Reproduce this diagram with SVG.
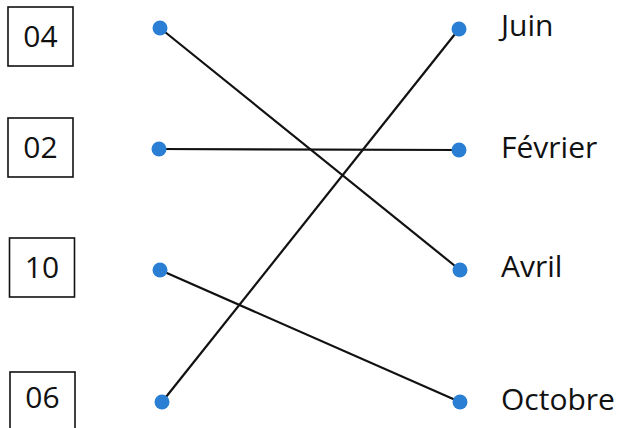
<svg xmlns="http://www.w3.org/2000/svg" width="621" height="428" viewBox="0 0 621 428">
<style>
.box{fill:#fff;stroke:#111;stroke-width:1.6}
.num{font-family:"Open Sans","Liberation Sans",sans-serif;font-size:30px;fill:#111;text-anchor:middle}
.lbl{font-family:"Open Sans","Liberation Sans",sans-serif;font-size:30px;fill:#111}
.dot{fill:#2a7fd4}
.ln{stroke:#111;stroke-width:2.2;fill:none}
</style>
<rect width="621" height="428" fill="#fff"/>
<g id="connectors">
<line class="ln" x1="160" y1="28" x2="460" y2="270"/>
<line class="ln" x1="159" y1="149" x2="459" y2="150"/>
<line class="ln" x1="160" y1="270" x2="460" y2="402"/>
<line class="ln" x1="162" y1="402" x2="459" y2="29"/>
</g>
<g id="n04"><rect class="box" x="8" y="7" width="65" height="59"/><text class="num" x="40.5" y="47">04</text></g>
<g id="n02"><rect class="box" x="8" y="118" width="65" height="59"/><text class="num" x="40.5" y="158">02</text></g>
<g id="n10"><rect class="box" x="9.5" y="238" width="65" height="59"/><text class="num" x="42" y="278">10</text></g>
<g id="n06"><rect class="box" x="10" y="372" width="65" height="60"/><text class="num" x="42.5" y="408">06</text></g>
<g id="d04"><circle class="dot" cx="160" cy="28" r="7.5"/></g>
<g id="d02"><circle class="dot" cx="159" cy="149" r="7.5"/></g>
<g id="d10"><circle class="dot" cx="160" cy="270" r="7.5"/></g>
<g id="d06"><circle class="dot" cx="162" cy="402" r="7.5"/></g>
<g id="juin"><circle class="dot" cx="459" cy="29" r="7.5"/><text class="lbl" x="501" y="36">Juin</text></g>
<g id="fevrier"><circle class="dot" cx="459" cy="150" r="7.5"/><text class="lbl" x="501" y="158">Février</text></g>
<g id="avril"><circle class="dot" cx="460" cy="270" r="7.5"/><text class="lbl" x="501" y="277">Avril</text></g>
<g id="octobre"><circle class="dot" cx="460" cy="402" r="7.5"/><text class="lbl" x="501" y="410">Octobre</text></g>
</svg>
